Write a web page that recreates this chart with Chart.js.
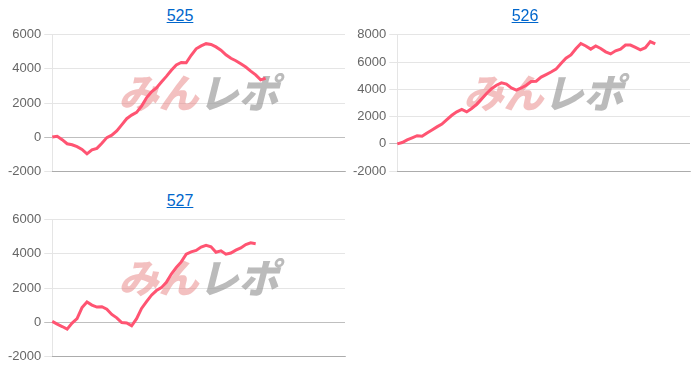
<!DOCTYPE html>
<html lang="ja">
<head>
    <meta charset="UTF-8">
    <title>みんレポ 差枚グラフ</title>
    <style>
        body {
            margin: 0;
            background: #fff;
            font-family: Arial, "Liberation Sans", sans-serif;
        }
        .block {
            position: absolute;
            width: 360px;
            height: 185px;
        }
        .block .title {
            position: absolute;
            top: 7px;
            left: 0;
            width: 360px;
            text-align: center;
            font-size: 16px;
            line-height: 18px;
        }
        .block .title a {
            color: #0066cc;
            text-decoration: underline;
        }
        .block canvas {
            position: absolute;
            top: 24px;
            left: 0;
        }
    </style>
    <script src="https://cdn.jsdelivr.net/npm/chart.js"></script>
</head>
<body>
    <div class="block" style="left:0;top:0">
        <div class="title"><a href="#">525</a></div>
        <canvas id="chart525" width="350" height="158"></canvas>
    </div>
    <div class="block" style="left:345px;top:0">
        <div class="title"><a href="#">526</a></div>
        <canvas id="chart526" width="350" height="158"></canvas>
    </div>
    <div class="block" style="left:0;top:185px">
        <div class="title"><a href="#">527</a></div>
        <canvas id="chart527" width="350" height="158"></canvas>
    </div>

    <script>
        // game count on the x axis (hidden labels)
        const games = [
            1, 2, 3, 4, 5, 6, 7, 8, 9, 10, 11, 12, 13, 14, 15, 16, 17, 18, 19, 20,
            21, 22, 23, 24, 25, 26, 27, 28, 29, 30, 31, 32, 33, 34, 35, 36, 37, 38, 39, 40,
            41, 42, 43, 44, 45, 46, 47, 48, 49, 50, 51, 52, 53, 54, 55, 56, 57, 58, 59, 60
        ];

        // cumulative difference per machine
        const diff525 = [
            0, 50, -150, -390, -450, -560, -720, -980, -750, -660,
            -360, -30, 110, 360, 720, 1080, 1290, 1450, 1820, 2300,
            2660, 2880, 3230, 3560, 3920, 4230, 4380, 4360, 4800, 5180,
            5350, 5480, 5430, 5290, 5100, 4830, 4620, 4480, 4300, 4110,
            3870, 3650, 3360, 3450
        ];
        const diff526 = [
            0, 100, 300, 450, 600, 560, 800, 1020, 1250, 1450,
            1780, 2100, 2350, 2530, 2350, 2600, 2900, 3300, 3700, 4050,
            4300, 4480, 4380, 4100, 3950, 4100, 4300, 4580, 4600, 4900,
            5080, 5270, 5480, 5900, 6280, 6520, 6980, 7360, 7180, 6950,
            7180, 7000, 6750, 6600, 6830, 6950, 7250, 7250, 7080, 6900,
            7050, 7500, 7330
        ];
        const diff527 = [
            40, -120, -260, -410, -60, 200, 850, 1180, 1000, 880,
            900, 760, 450, 250, -30, -50, -220, 200, 800, 1200,
            1580, 1850, 2020, 2330, 2820, 3200, 3530, 3980, 4120, 4200,
            4400, 4500, 4420, 4100, 4180, 3980, 4050, 4220, 4350, 4550,
            4650, 4600
        ];

        Chart.defaults.font.family = "Arial, 'Liberation Sans', sans-serif";

        // watermark behind the line
        const watermark = {
            id: 'watermark',
            beforeDatasetsDraw(chart) {
                const area = chart.chartArea;
                const c = chart.ctx;
                const cx = (area.left + area.right) / 2;
                const cy = area.top + 58;
                c.save();
                c.font = "italic 900 40px 'Noto Sans CJK JP'";
                c.textBaseline = 'middle';
                const w1 = c.measureText('みん').width;
                const w2 = c.measureText('レポ').width;
                const x0 = cx - (w1 + w2) / 2;
                c.fillStyle = 'rgba(232, 130, 130, 0.5)';
                c.fillText('みん', x0, cy);
                c.fillStyle = 'rgba(150, 150, 150, 0.65)';
                c.fillText('レポ', x0 + w1, cy);
                c.restore();
            }
        };

        function makeChart(id, values, yMax) {
            const ctx = document.getElementById(id).getContext('2d');
            return new Chart(ctx, {
                type: 'line',
                data: {
                    labels: games,
                    datasets: [{
                        data: values,
                        borderColor: 'rgb(255, 84, 114)',
                        borderWidth: 3,
                        pointRadius: 0,
                        fill: false,
                        tension: 0
                    }]
                },
                options: {
                    responsive: false,
                    animation: false,
                    layout: { padding: { left: 5, right: 5 } },
                    plugins: {
                        legend: { display: false },
                        tooltip: { enabled: false }
                    },
                    scales: {
                        x: {
                            ticks: { display: false },
                            grid: { display: false },
                            border: { color: 'rgba(0,0,0,0.25)' }
                        },
                        y: {
                            min: -2000,
                            max: yMax,
                            ticks: {
                                stepSize: 2000,
                                color: '#666',
                                font: { size: 13 },
                                callback: v => String(v)
                            },
                            grid: {
                                color: c => c.tick && c.tick.value === 0 ? 'rgba(0,0,0,0.25)' : 'rgba(0,0,0,0.1)'
                            },
                            border: { color: 'rgba(0,0,0,0.1)' }
                        }
                    }
                },
                plugins: [watermark]
            });
        }

        makeChart('chart525', diff525, 6000);
        makeChart('chart526', diff526, 8000);
        makeChart('chart527', diff527, 6000);
    </script>
</body>
</html>
